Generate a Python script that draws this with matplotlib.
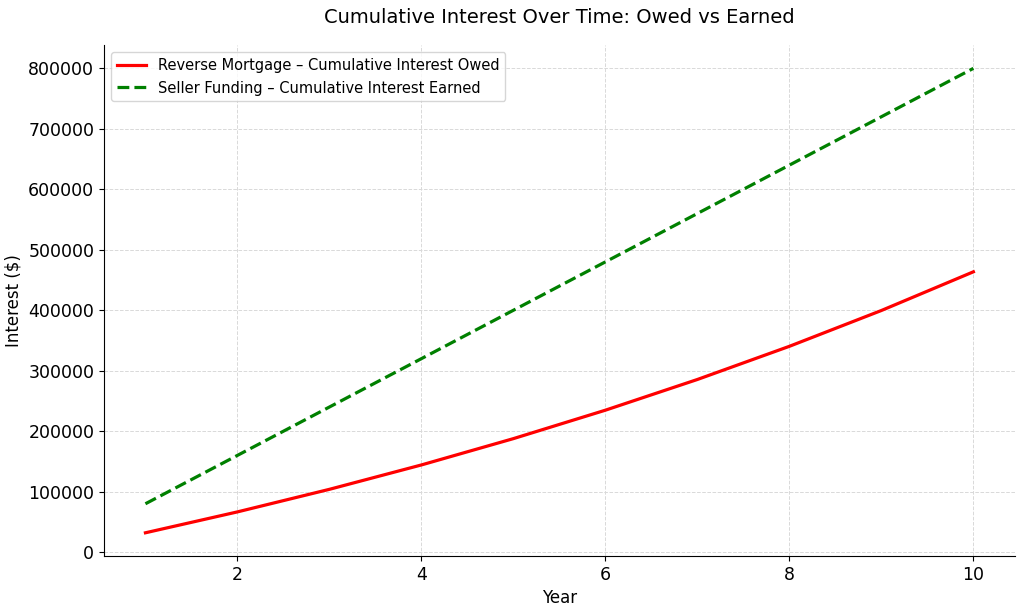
import matplotlib
matplotlib.use("Agg")
import matplotlib.pyplot as plt

years = [1, 2, 3, 4, 5, 6, 7, 8, 9, 10]
owed = [32000, 66560, 103885, 144195, 187731, 234750, 285528, 340371, 399601, 463570]
earned = [80000, 160000, 240000, 320000, 400000, 480000, 560000, 640000, 720000, 800000]

fig = plt.figure(figsize=(10.24, 6.1), dpi=100)
ax = fig.add_axes([0.1016, 0.0885, 0.8894, 0.8375])

ax.plot(years, owed, color="red", lw=2.3, label="Reverse Mortgage – Cumulative Interest Owed")
ax.plot(years, earned, color="green", lw=2.3, ls="--", label="Seller Funding – Cumulative Interest Earned")

ax.set_title("Cumulative Interest Over Time: Owed vs Earned", fontsize=14, pad=16)
ax.set_xlabel("Year", fontsize=12)
ax.set_ylabel("Interest ($)", fontsize=12)
ax.tick_params(labelsize=12.5)
ax.grid(True, ls="--", color="#d9d9d9", lw=0.7)
ax.spines["top"].set_visible(False)
ax.spines["right"].set_visible(False)
ax.legend(loc="upper left", fontsize=10.5)

plt.savefig("out.png", dpi=100)
